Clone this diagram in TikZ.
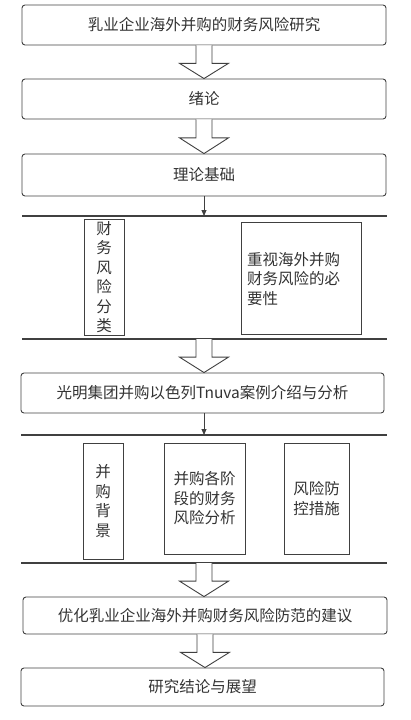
\documentclass[tikz,border=0pt]{standalone}
\usepackage{fontspec}
\newfontfamily\cjk{Noto Sans CJK SC}
\usetikzlibrary{arrows.meta,calc}
\definecolor{ln}{HTML}{404040}
\definecolor{tx}{HTML}{333333}
\tikzset{
  every node/.style={font=\cjk\fontsize{15.5}{19.5}\selectfont, text=tx},
  mainbox/.style={draw=ln, line width=0.9pt, rounded corners=3pt, inner sep=0pt},
  subbox/.style={draw=ln, line width=0.9pt, inner sep=0pt},
  sepline/.style={draw=ln, line width=1.2pt},
  bigarrow/.style={draw=ln, line width=0.9pt, fill=white, line join=miter},
  smallarrow/.style={draw=ln, line width=0.9pt, -{Triangle[length=6pt,width=5pt]}},
}
\newcommand\bigarr[2]{%
  \draw[bigarrow] let \p1=(#1), \p2=(#2) in
    (\x1-8pt,\y1) -- (\x1-8pt,{\y1+0.54*(\y2-\y1)}) -- (\x1-24.5pt,{\y1+0.54*(\y2-\y1)})
    -- (\x1,\y2) -- (\x1+24.5pt,{\y1+0.54*(\y2-\y1)}) -- (\x1+8pt,{\y1+0.54*(\y2-\y1)})
    -- (\x1+8pt,\y1);}
\begin{document}
\begin{tikzpicture}[x=1pt,y=-1pt]
\useasboundingbox (0,0) rectangle (411,720);
% main boxes
\node[mainbox, minimum width=364pt, minimum height=40pt] (b1) at (204,25) {乳业企业海外并购的财务风险研究};
\node[mainbox, minimum width=364pt, minimum height=40pt] (b2) at (204,99) {绪论};
\node[mainbox, minimum width=364pt, minimum height=42pt] (b3) at (204,175) {理论基础};
\node[mainbox, minimum width=363pt, minimum height=40pt] (b4) at (202.5,393) {光明集团并购以色列Tnuva案例介绍与分析};
\node[mainbox, minimum width=364pt, minimum height=37pt] (b5) at (205,615.5) {优化乳业企业海外并购财务风险防范的建议};
\node[mainbox, minimum width=363pt, minimum height=38pt] (b6) at (202.5,687) {研究结论与展望};
% separator lines
\coordinate (L1) at (204,216);
\coordinate (L2) at (204,339);
\coordinate (L3) at (204,435);
\coordinate (L4) at (204,563);
\draw[sepline] (22,216) -- (387,216);
\draw[sepline] (22,339) -- (387,339);
\draw[sepline] (21,435) -- (387,435);
\draw[sepline] (21,563) -- (387,563);
% sub boxes
\node[subbox, minimum width=40pt, minimum height=116pt, align=center] (s1) at (104,277) {财\\务\\风\\险\\分\\类};
\node[subbox, minimum width=120pt, minimum height=112pt] (s2) at (301,278) {};
\node[anchor=west, align=left, inner sep=0pt] (s2t) at (247,279) {重视海外并购\\财务风险的必\\要性};
\node[subbox, minimum width=40pt, minimum height=116pt, align=center] (s3) at (103,501) {并\\购\\背\\景};
\node[subbox, minimum width=81pt, minimum height=111pt, align=center] (s4) at (204.5,498.5) {并购各阶\\段的财务\\风险分析};
\node[subbox, minimum width=65pt, minimum height=111pt, align=center] (s5) at (316.5,498.5) {风险防\\控措施};
% arrows
\bigarr{b1.south}{b2.north}
\bigarr{b2.south}{b3.north}
\bigarr{L2}{b4.north}
\bigarr{L4}{b5.north}
\bigarr{b5.south}{b6.north}
\draw[smallarrow] (b3.south) -- (L1);
\draw[smallarrow] (b4.south -| L3) -- (L3);
\end{tikzpicture}
\end{document}
